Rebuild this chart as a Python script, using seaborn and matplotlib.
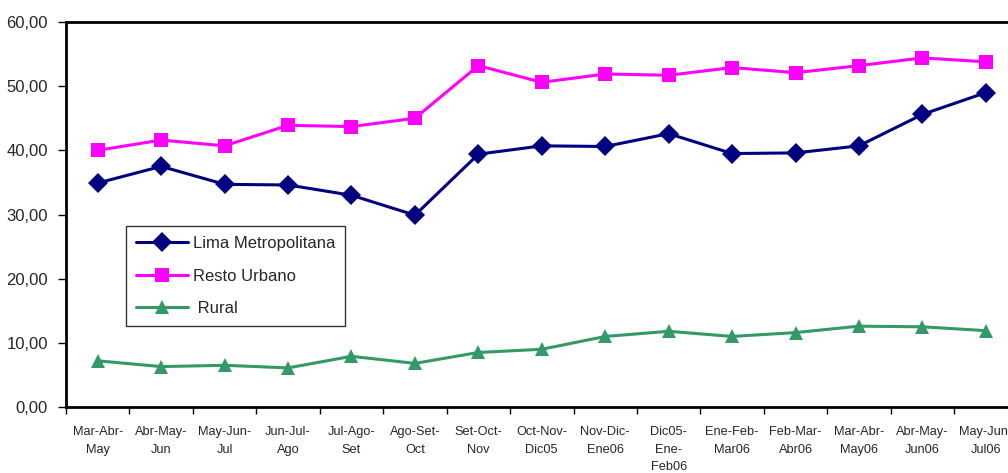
import numpy as np
import pandas as pd
import matplotlib
matplotlib.use("Agg")
import matplotlib.pyplot as plt
import seaborn as sns
from matplotlib.ticker import FixedLocator, FuncFormatter

periodos = ["Mar-Abr-\nMay", "Abr-May-\nJun", "May-Jun-\nJul", "Jun-Jul-\nAgo", "Jul-Ago-\nSet",
            "Ago-Set-\nOct", "Set-Oct-\nNov", "Oct-Nov-\nDic05", "Nov-Dic-\nEne06", "Dic05-\nEne-\nFeb06",
            "Ene-Feb-\nMar06", "Feb-Mar-\nAbr06", "Mar-Abr-\nMay06", "Abr-May-\nJun06", "May-Jun-\nJul06"]

lima = [34.9, 37.5, 34.7, 34.6, 33.0, 29.9, 39.4, 40.7, 40.6, 42.6, 39.5, 39.6, 40.7, 45.6, 49.0]
resto = [40.0, 41.6, 40.7, 43.9, 43.7, 45.0, 53.2, 50.6, 51.9, 51.7, 52.9, 52.1, 53.2, 54.4, 53.8]
rural = [7.2, 6.3, 6.5, 6.1, 7.9, 6.8, 8.5, 9.0, 11.0, 11.8, 11.0, 11.6, 12.6, 12.5, 11.9]

series = ["Lima Metropolitana", "Resto Urbano", " Rural"]
colores = {"Lima Metropolitana": "#000080", "Resto Urbano": "#FF00FF", " Rural": "#339966"}
marcas = {"Lima Metropolitana": "D", "Resto Urbano": "s", " Rural": "^"}

df = pd.DataFrame({
    "pos": list(range(len(periodos))) * 3,
    "valor": lima + resto + rural,
    "serie": [s for s in series for _ in periodos],
})

sns.set_style("white")
plt.rcParams["font.family"] = ["Liberation Sans Narrow", "Liberation Sans", "DejaVu Sans"]

fig = plt.figure(figsize=(10.08, 4.73), dpi=100)
ax = fig.add_axes([0.0655, 0.1395, 0.944, 0.814])

sns.lineplot(data=df, x="pos", y="valor", hue="serie", style="serie",
             palette=colores, markers=marcas, dashes=False, markersize=10.5,
             markeredgewidth=0, linewidth=2.2, ax=ax)

ax.set_xlim(-0.5, len(periodos) - 0.5)
ax.set_ylim(0, 60)
ax.set_xlabel("")
ax.set_ylabel("")

ax.set_yticks(np.arange(0, 61, 10))
ax.yaxis.set_major_formatter(FuncFormatter(lambda v, p: f"{v:.2f}".replace(".", ",")))
ax.set_xticks(range(len(periodos)))
ax.set_xticklabels(periodos, fontsize=9.2, linespacing=1.6, va="top")
ax.xaxis.set_minor_locator(FixedLocator(np.arange(-0.5, len(periodos), 1.0)))
ax.tick_params(axis="x", which="major", length=0, pad=14)
ax.tick_params(axis="x", which="minor", length=5, width=1, direction="out", color="black")
ax.tick_params(axis="y", length=6, width=1, direction="out", color="black", labelsize=12, pad=7)
ax.tick_params(axis="both", bottom=True, left=True, which="both")

for lado in ["left", "bottom", "top"]:
    ax.spines[lado].set_color("black")
    ax.spines[lado].set_linewidth(2)
ax.spines["right"].set_visible(False)

leg = ax.legend(loc="upper left", bbox_to_anchor=(0.063, 0.47), fontsize=12,
                frameon=True, fancybox=False, edgecolor="black", borderpad=0.6,
                handlelength=3.1, handletextpad=0.3, labelspacing=1.05, borderaxespad=0)
leg.get_frame().set_linewidth(1)
leg.set_title(None)

fig.savefig("out.png", dpi=100)
